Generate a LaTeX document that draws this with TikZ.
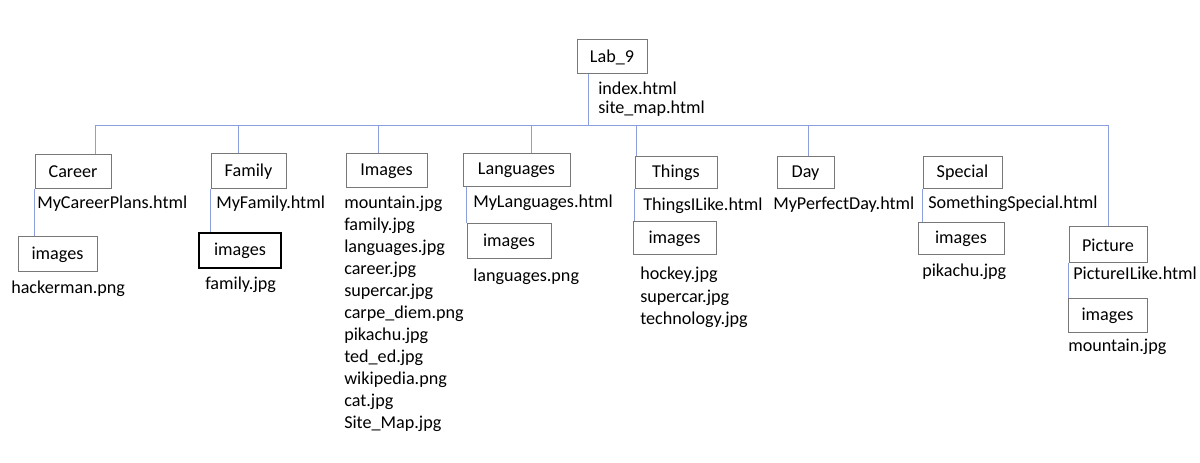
\documentclass[tikz,border=0pt]{standalone}
\usepackage{fontspec}
\setmainfont{Carlito}
\usetikzlibrary{positioning}
\definecolor{linkblue}{RGB}{140,158,222}
\definecolor{boxgray}{RGB}{120,120,120}

\begin{document}
\begin{tikzpicture}[
    x=0.75pt, y=-0.75pt,
    font=\fontsize{13.6pt}{16pt}\selectfont,
    folder/.style={draw=boxgray, line width=0.75pt, inner sep=0pt},
    sz/.style 2 args={minimum width=#1*0.75pt, minimum height=#2*0.75pt},
    file/.style={anchor=base west, inner sep=0pt, yshift=-1.2pt},
    link/.style={draw=linkblue, line width=0.75pt}
]
    \useasboundingbox (0,0) rectangle (1200,463);

    % Folders
    \node[folder, sz={70}{34}] (lab) at (612,57) {Lab\_9};
    \node[folder, sz={76}{34}] (career) at (73,172) {Career};
    \node[folder, sz={75}{35}] (family) at (248.5,171.5) {Family};
    \node[folder, sz={81}{34}] (images) at (386.5,171) {Images};
    \node[folder, sz={107}{33}] (languages) at (516.5,170.5) {Languages};
    \node[folder, sz={82}{32}] (things) at (676,172.5) {Things};
    \node[folder, sz={57}{32}] (day) at (805.5,173) {Day};
    \node[folder, sz={79}{32}] (special) at (962.5,173) {Special};
    \node[folder, sz={78}{36}] (picture) at (1108,245) {Picture};

    % Sub folders
    \node[folder, sz={79}{35}] (careerimg) at (57.5,254.5) {images};
    \node[folder, sz={82}{35}, draw=black, line width=1.1pt] (familyimg) at (240,250.5) {images};
    \node[folder, sz={84}{35}] (langimg) at (509,241.5) {images};
    \node[folder, sz={83}{33}] (thingsimg) at (674.5,238.5) {images};
    \node[folder, sz={86}{32}] (specialimg) at (961,239) {images};
    \node[folder, sz={79}{34}] (pictureimg) at (1107.5,316) {images};

    % Files
    \node[file] (index) at (598,93) {index.html};
    \node[file] (sitemap) at (598,112) {site\_map.html};
    \node[file] (careerhtml) at (37,207) {MyCareerPlans.html};
    \node[file] (hacker) at (11,292) {hackerman.png};
    \node[file] (familyhtml) at (216,207) {MyFamily.html};
    \node[file] (familyjpg) at (205,288) {family.jpg};
    \foreach \f [count=\k from 0] in {mountain.jpg, family.jpg, languages.jpg,
        career.jpg, supercar.jpg, carpe\_diem.png, pikachu.jpg, ted\_ed.jpg,
        wikipedia.png, cat.jpg, Site\_Map.jpg} {
        \node[file] (pic\k) at (344,207+22*\k) {\f};
    }
    \node[file] (langhtml) at (473,206) {MyLanguages.html};
    \node[file] (langpng) at (473,280) {languages.png};
    \node[file] (thingshtml) at (643,209) {ThingsILike.html};
    \foreach \f [count=\k from 0] in {hockey.jpg, supercar.jpg, technology.jpg} {
        \node[file] (thing\k) at (640,278+22.5*\k) {\f};
    }
    \node[file] (dayhtml) at (773,208) {MyPerfectDay.html};
    \node[file] (specialhtml) at (928,207) {SomethingSpecial.html};
    \node[file] (pikachu) at (922,275) {pikachu.jpg};
    \node[file] (picturehtml) at (1073,278) {PictureILike.html};
    \node[file] (mountain) at (1068,350) {mountain.jpg};

    % Bus
    \coordinate (dLab) at (588,126);
    \coordinate (dCareer) at (95,126);
    \coordinate (dFamily) at (238,126);
    \coordinate (dImages) at (378,126);
    \coordinate (dLang) at (531,126);
    \coordinate (dThings) at (636,126);
    \coordinate (dDay) at (808,126);
    \coordinate (dPicture) at (1108,126);
    \draw[link] (dCareer |- career.north) -- (dCareer) -- (dPicture) -- (dPicture |- picture.north);
    \draw[link] (dLab |- lab.south) -- (dLab);
    \draw[link] (dFamily) -- (dFamily |- family.north);
    \draw[link] (dImages) -- (dImages |- images.north);
    \draw[link] (dLang) -- (dLang |- languages.north);
    \draw[link] (dThings) -- (dThings |- things.north);
    \draw[link] (dDay) -- (dDay |- day.north);

    % Links to images folders
    \draw[link] (career.south west) -- (career.south west |- careerimg.north);
    \draw[link] (family.south west) -- (family.south west |- familyimg.north);
    \draw[link] (langimg.north west) -- (langimg.north west |- languages.south);
    \draw[link] (things.south west) -- (things.south west |- thingsimg.north);
    \draw[link] (special.south west) -- (special.south west |- specialimg.north);
    \draw[link] (picture.south west) -- (picture.south west |- pictureimg.north);
\end{tikzpicture}
\end{document}
